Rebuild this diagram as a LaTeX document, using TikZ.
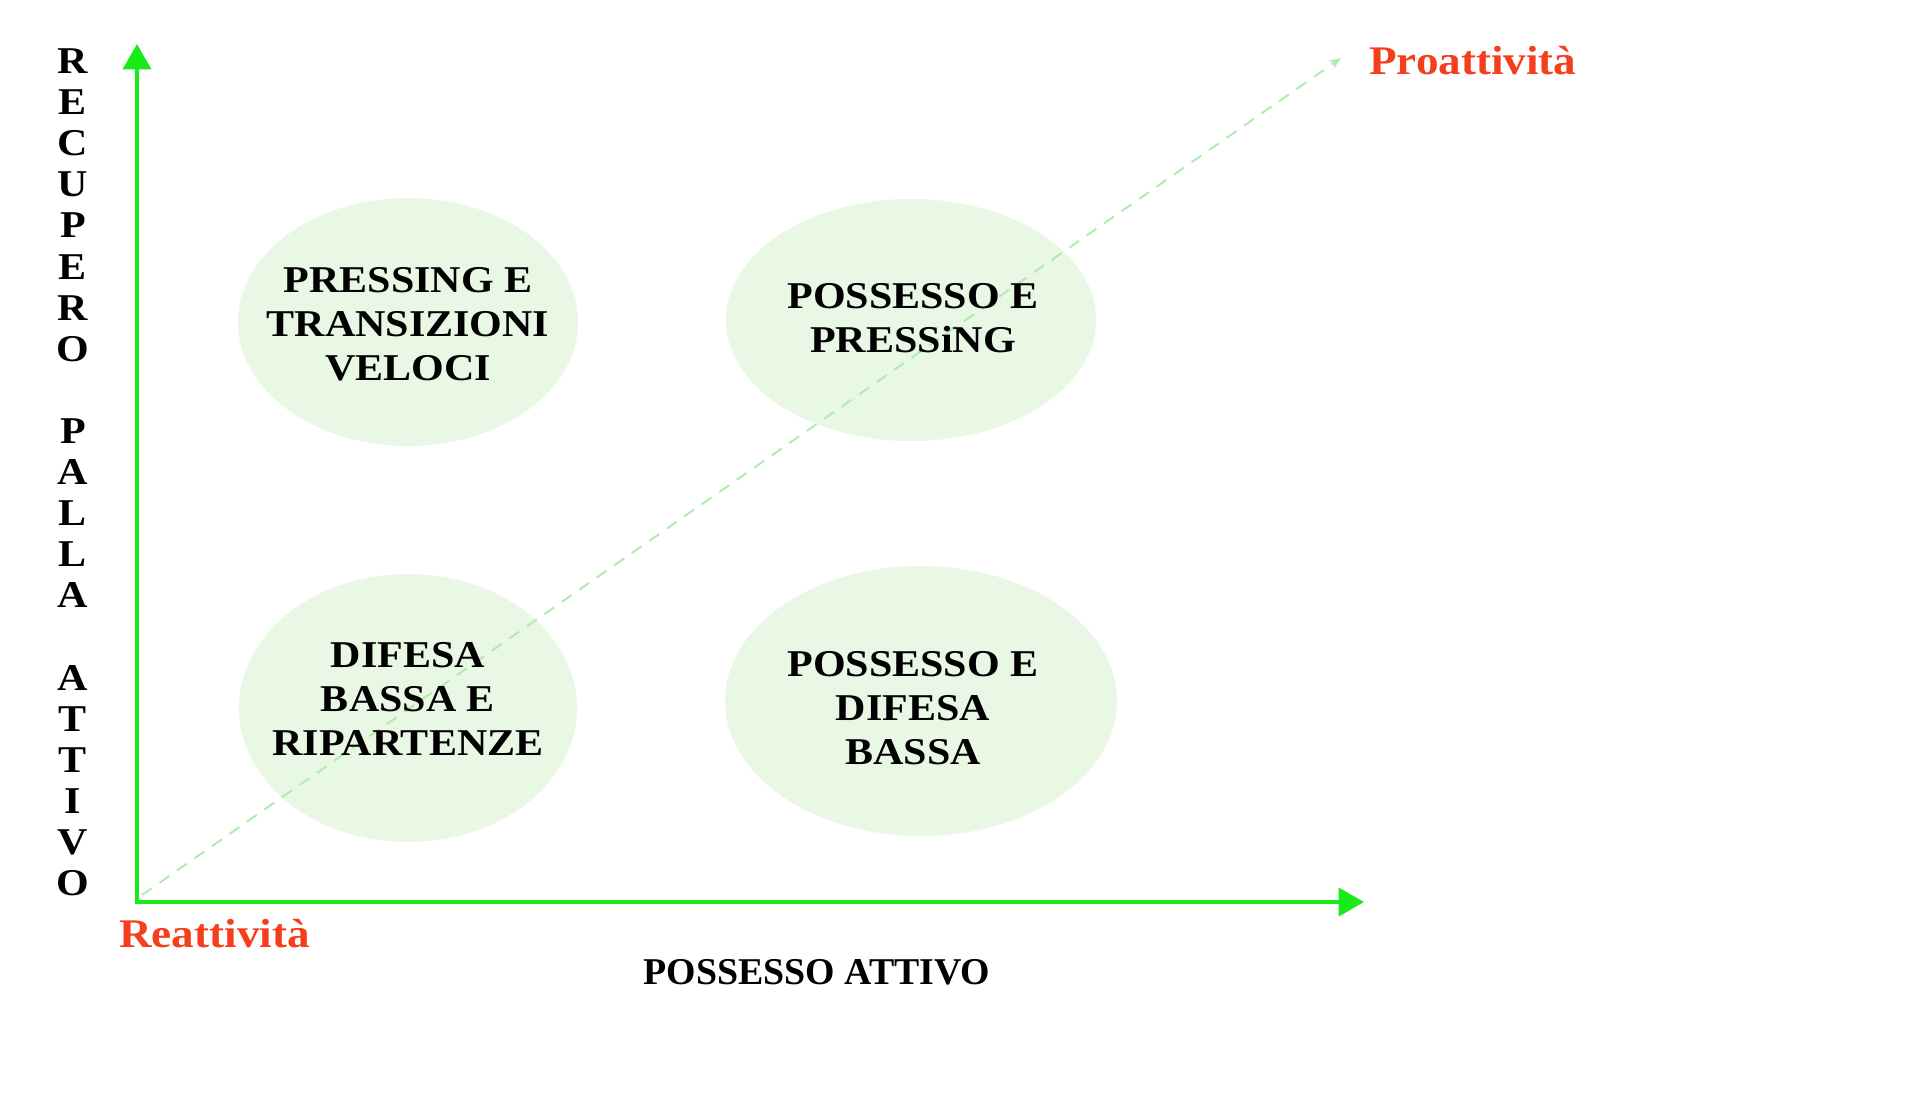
\documentclass[tikz,border=0pt]{standalone}
\usepackage{fontspec}
\setmainfont{Liberation Serif}
\newfontfamily\gfont[FakeStretch=1.11]{Liberation Serif}
\usetikzlibrary{shapes.geometric,arrows.meta}
\definecolor{axisgreen}{RGB}{25,235,25}
\definecolor{blobgreen}{RGB}{233,247,229}
\definecolor{dashgreen}{RGB}{176,236,176}
\definecolor{redlab}{RGB}{245,62,28}
\begin{document}
\begin{tikzpicture}[x=0.75pt,y=-0.75pt,
  blob/.style={ellipse, fill=blobgreen, draw=none, inner sep=0pt},
  btxt/.style={font=\gfont\bfseries\fontsize{28.4}{33}\selectfont, align=center, inner sep=0pt},
  vlet/.style={font=\gfont\bfseries\fontsize{28.4}{30}\selectfont, anchor=base, inner sep=0pt},
  axisline/.style={draw=axisgreen, line width=3pt, -{Triangle[length=19pt,width=21pt]}},
  trend/.style={draw=dashgreen, line width=1.5pt, dash pattern=on 9pt off 7pt, -{Stealth[length=9pt,width=7pt]}},
  redlbl/.style={text=redlab, font=\gfont\bfseries\fontsize{30.5}{33}\selectfont, inner sep=0pt},
  axlbl/.style={font=\bfseries\fontsize{28.4}{33}\selectfont, inner sep=0pt}]
\fill[white] (0,0) rectangle (1920,1097);
\path[use as bounding box] (0,0) rectangle (1920,1097);

% quadrant blobs
\node[blob, minimum width=255pt, minimum height=186pt] (tl) at (408,322) {};
\node[blob, minimum width=277.5pt, minimum height=181.5pt] (tr) at (911,320) {};
\node[blob, minimum width=253.5pt, minimum height=201pt] (bl) at (408,708) {};
\node[blob, minimum width=294pt, minimum height=202.5pt] (br) at (921,701) {};

% trend line
\coordinate (ts) at (142,895);
\coordinate (te) at (1341,58);
\draw[trend] (ts) -- (te);

% quadrant texts
\node[btxt] (tlt) at (408,324) {PRESSING E\\TRANSIZIONI\\VELOCI};
\node[btxt] (trt) at (913,318) {POSSESSO E\\PRESSiNG};
\node[btxt] (blt) at (408,699) {DIFESA\\BASSA E\\RIPARTENZE};
\node[btxt] (brt) at (913,708) {POSSESSO E\\DIFESA\\BASSA};

% axes
\coordinate (O) at (137,902);
\coordinate (ytip) at (137,44);
\coordinate (xtip) at (1364,902);
\draw[axisline] (137,903.5) -- (ytip);
\draw[axisline] (135.5,902) -- (xtip);

% vertical axis label
\foreach \c [count=\i] in {R,E,C,U,P,E,R,O,{},P,A,L,L,A,{},A,T,T,I,V,O}
  \node[vlet] (v\i) at (73,{73.5+41.1*(\i-1)}) {\c};

% other labels
\node[axlbl, anchor=base] (xl) at (817,984.5) {POSSESSO ATTIVO};
\node[redlbl, anchor=base west] (pro) at (1369,74) {Proattività};
\node[redlbl, anchor=base west] (rea) at (119,947) {Reattività};
\end{tikzpicture}
\end{document}
